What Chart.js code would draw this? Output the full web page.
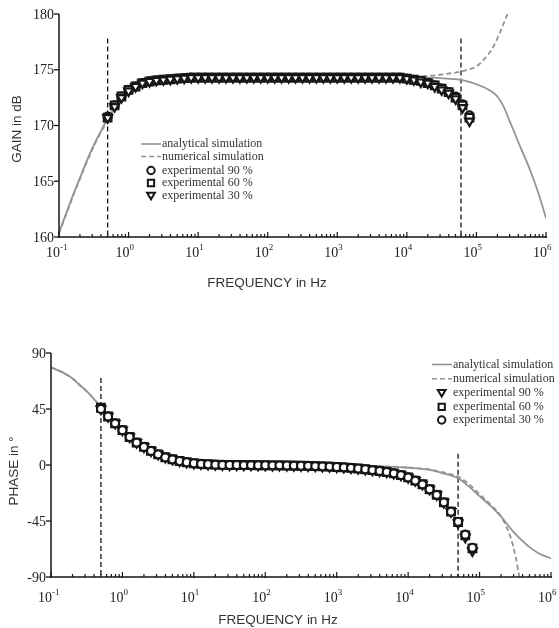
<!DOCTYPE html>
<html>
<head>
<meta charset="utf-8">
<script src="https://cdn.jsdelivr.net/npm/chart.js@4.4.1/dist/chart.umd.min.js"></script>
<style>
  body { margin: 0; background: #fff; }
  canvas { position: absolute; left: 0; }
</style>
</head>
<body>
<canvas id="gainChart" width="559" height="300" style="top:0"></canvas>
<canvas id="phaseChart" width="559" height="328" style="top:300px"></canvas>
<script>
// measured frequencies (Hz), ten per decade
const expFreq = [0.5, 0.63, 0.79, 1, 1.26, 1.58, 2, 2.51, 3.16, 3.98, 5.01, 6.31, 7.94,
  10, 12.6, 15.8, 20, 25.1, 31.6, 39.8, 50.1, 63.1, 79.4,
  100, 126, 158, 200, 251, 316, 398, 501, 631, 794,
  1000, 1259, 1585, 1995, 2512, 3162, 3981, 5012, 6310, 7943,
  10000, 12589, 15849, 19953, 25119, 31623, 39811, 50119, 63096, 79433];

// gain (dB)
const gain90 = [170.8, 171.8, 172.6, 173.2, 173.5, 173.8, 173.95, 174.05, 174.1, 174.15, 174.2, 174.25, 174.3,
  174.3, 174.3, 174.3, 174.3, 174.3, 174.3, 174.3, 174.3, 174.3, 174.3,
  174.3, 174.3, 174.3, 174.3, 174.3, 174.3, 174.3, 174.3, 174.3, 174.3,
  174.3, 174.3, 174.3, 174.3, 174.3, 174.3, 174.3, 174.3, 174.3, 174.3,
  174.2, 174.1, 174.0, 173.8, 173.6, 173.3, 173.0, 172.6, 171.9, 170.9];
const gain60 = [170.7, 171.8, 172.6, 173.2, 173.5, 173.8, 173.95, 174.05, 174.1, 174.15, 174.2, 174.25, 174.3,
  174.3, 174.3, 174.3, 174.3, 174.3, 174.3, 174.3, 174.3, 174.3, 174.3,
  174.3, 174.3, 174.3, 174.3, 174.3, 174.3, 174.3, 174.3, 174.3, 174.3,
  174.3, 174.3, 174.3, 174.3, 174.3, 174.3, 174.3, 174.3, 174.3, 174.3,
  174.2, 174.1, 174.0, 173.8, 173.6, 173.3, 173.0, 172.5, 171.8, 170.7];
const gain30 = [170.7, 171.7, 172.5, 173.1, 173.5, 173.8, 173.95, 174.05, 174.1, 174.15, 174.2, 174.25, 174.3,
  174.3, 174.3, 174.3, 174.3, 174.3, 174.3, 174.3, 174.3, 174.3, 174.3,
  174.3, 174.3, 174.3, 174.3, 174.3, 174.3, 174.3, 174.3, 174.3, 174.3,
  174.3, 174.3, 174.3, 174.3, 174.3, 174.3, 174.3, 174.3, 174.3, 174.3,
  174.2, 174.1, 173.9, 173.8, 173.5, 173.2, 172.9, 172.4, 171.6, 170.4];

const gainCurveFreq = [0.1, 0.13, 0.16, 0.2, 0.25, 0.32, 0.4, 0.5, 0.63, 0.8, 1, 1.26, 1.6, 2, 3, 5,
  10, 100, 1000, 10000, 20000, 30000, 50000, 70000, 100000, 150000, 200000, 250000, 300000, 350000, 400000, 500000, 600000, 800000, 1000000];
const gainAnalytical = [160.4, 162.3, 163.8, 165.3, 166.8, 168.3, 169.5, 170.6, 171.6, 172.5, 173.1, 173.5, 173.8, 174.0, 174.2, 174.3,
  174.3, 174.3, 174.3, 174.3, 174.3, 174.25, 174.15, 174.0, 173.7, 173.2, 172.6, 171.6, 170.4, 169.4, 168.5, 167.1, 165.9, 163.7, 161.7];
const gainNumFreq = [0.1, 0.13, 0.16, 0.2, 0.25, 0.32, 0.4, 0.5, 0.63, 0.8, 1, 1.26, 1.6, 2, 3, 5,
  10, 100, 1000, 10000, 20000, 30000, 50000, 70000, 100000, 140000, 180000, 220000, 280000];
const gainNumerical = [160.3, 162.2, 163.7, 165.2, 166.7, 168.2, 169.4, 170.5, 171.5, 172.4, 173.0, 173.5, 173.8, 174.0, 174.2, 174.3,
  174.3, 174.3, 174.35, 174.4, 174.45, 174.55, 174.75, 174.95, 175.3, 176.2, 177.2, 178.4, 180.0];

// phase (degrees)
const phase90 = [45, 39, 33.5, 28, 22.5, 18, 14.5, 11.3, 8.6, 6.2, 4.6, 3.2, 2.2,
  1.4, 0.9, 0.6, 0.3, 0.1, 0, 0, -0.1, -0.1, -0.2,
  -0.2, -0.3, -0.3, -0.4, -0.5, -0.6, -0.7, -0.9, -1.1, -1.3,
  -1.6, -1.9, -2.3, -2.8, -3.4, -4.1, -4.8, -5.6, -6.7, -8.1,
  -10, -12.5, -15.5, -19.5, -24, -30, -37.5, -46.5, -58, -69];
const phase60 = [46, 39, 33.5, 28, 22.5, 18, 14.5, 11.3, 8.6, 6.2, 4.6, 3.2, 2.2,
  1.4, 0.9, 0.6, 0.3, 0.1, 0, 0, -0.1, -0.1, -0.2,
  -0.2, -0.3, -0.3, -0.4, -0.5, -0.6, -0.7, -0.9, -1.1, -1.3,
  -1.6, -1.9, -2.3, -2.8, -3.4, -4.1, -4.8, -5.6, -6.7, -8.1,
  -10, -12.5, -15.5, -19.5, -24, -30, -37.5, -45.8, -56.5, -67];
const phase30 = [45, 39, 33.5, 28, 22.5, 18, 14.5, 11.3, 8.6, 6.2, 4.6, 3.2, 2.2,
  1.4, 0.9, 0.6, 0.3, 0.1, 0, 0, -0.1, -0.1, -0.2,
  -0.2, -0.3, -0.3, -0.4, -0.5, -0.6, -0.7, -0.9, -1.1, -1.3,
  -1.6, -1.9, -2.3, -2.8, -3.4, -4.1, -4.8, -5.6, -6.7, -8.1,
  -10, -12.5, -15.5, -19.5, -24, -30, -37.5, -45.6, -56, -66.5];

const phaseCurveFreq = [0.1, 0.15, 0.2, 0.25, 0.32, 0.4, 0.5, 0.63, 0.8, 1, 1.26, 1.6, 2, 2.5, 3.2, 4, 5, 6.3, 8, 10, 16, 25, 40,
  100, 1000, 3000, 10000, 20000, 30000, 50000, 70000, 100000, 150000, 200000, 300000, 400000, 500000, 700000, 1000000];
const phaseAnalytical = [78.5, 74, 69.5, 64.5, 59, 53, 46.5, 40, 34, 28, 22.5, 18, 14.5, 11.3, 8.6, 6.2, 4.6, 3.2, 2.3, 1.6, 0.8, 0.4, 0.2,
  0, -0.2, -0.8, -2.2, -4, -6.5, -10.7, -17, -25, -34, -41.5, -54, -61, -66, -71.5, -75];
const phaseNumFreq = [0.1, 0.15, 0.2, 0.25, 0.32, 0.4, 0.5, 0.63, 0.8, 1, 1.26, 1.6, 2, 2.5, 3.2, 4, 5, 6.3, 8, 10, 16, 25, 40,
  100, 1000, 3000, 10000, 20000, 30000, 50000, 70000, 100000, 150000, 200000, 270000, 320000, 360000];
const phaseNumerical = [78.5, 74, 69.5, 64.5, 59, 53, 46.5, 40, 34, 28, 22.5, 18, 14.5, 11.3, 8.6, 6.2, 4.6, 3.2, 2.3, 1.6, 0.8, 0.4, 0.2,
  0, -0.2, -0.7, -2, -3.6, -5.7, -9.3, -15, -23.5, -33, -41.5, -57.6, -73.7, -90];

// vertical dashed markers
const gainMarkFreq = [0.5, 60000];
const gainMarkTop = [177.8, 177.8];
const phaseMarkFreq = [0.5, 50000];
const phaseMarkTop = [70, 9];

// axis ticks
const xTickValues = [0.1, 1, 10, 100, 1000, 10000, 100000, 1000000];
const xTickExps = ["-1", "0", "1", "2", "3", "4", "5", "6"];
const gainTicks = [160, 165, 170, 175, 180];
const phaseTicks = [-90, -45, 0, 45, 90];

const SERIF = '"Liberation Serif", "Times New Roman", serif';
const SANS = '"Liberation Sans", Arial, sans-serif';
const GREY = "#939393";
const INK = "#161616";

const zip = (xs, ys) => xs.map((x, i) => ({ x: x, y: ys[i] }));

function drawMarker(ctx, style, x, y, r) {
  ctx.beginPath();
  if (style === "circle") {
    ctx.arc(x, y, r, 0, Math.PI * 2);
  } else if (style === "rect") {
    ctx.rect(x - r * 0.85, y - r * 0.85, r * 1.7, r * 1.7);
  } else {
    ctx.moveTo(x - r * 1.05, y - r * 0.75);
    ctx.lineTo(x + r * 1.05, y - r * 0.75);
    ctx.lineTo(x, y + r * 1.0);
    ctx.closePath();
  }
  ctx.fillStyle = "#fff";
  ctx.fill();
  ctx.stroke();
}

const framePlugin = {
  id: "frame",
  afterDraw(chart, args, opts) {
    const ctx = chart.ctx;
    const a = chart.chartArea;
    const xs = chart.scales.x, ys = chart.scales.y;
    ctx.save();
    ctx.strokeStyle = INK;
    ctx.lineWidth = 1.5;
    ctx.beginPath();
    ctx.moveTo(a.left, a.top);
    ctx.lineTo(a.left, a.bottom);
    ctx.lineTo(a.right + 1, a.bottom);
    ctx.stroke();

    // y ticks
    ctx.lineWidth = 1.3;
    ctx.fillStyle = "#222";
    ctx.font = "14px " + SERIF;
    ctx.textAlign = "right";
    ctx.textBaseline = "middle";
    opts.yTicks.forEach(v => {
      const py = ys.getPixelForValue(v);
      ctx.beginPath();
      ctx.moveTo(a.left - 5, py);
      ctx.lineTo(a.left, py);
      ctx.stroke();
      ctx.fillText(String(v), a.left - 5, py + 1);
    });

    // x ticks, major and minor
    ctx.lineWidth = 1.2;
    xTickValues.forEach((v, i) => {
      const px = xs.getPixelForValue(v);
      ctx.beginPath();
      ctx.moveTo(px, a.bottom - 5);
      ctx.lineTo(px, a.bottom + 1);
      ctx.stroke();
      if (i < xTickValues.length - 1) {
        for (let m = 2; m <= 9; m++) {
          const mx = xs.getPixelForValue(v * m);
          ctx.beginPath();
          ctx.moveTo(mx, a.bottom - 3);
          ctx.lineTo(mx, a.bottom);
          ctx.stroke();
        }
      }
      ctx.textBaseline = "alphabetic";
      ctx.textAlign = "right";
      ctx.font = "14px " + SERIF;
      ctx.fillText("10", px + 1, a.bottom + opts.xLabelGap);
      ctx.textAlign = "left";
      ctx.font = "9px " + SERIF;
      ctx.fillText(xTickExps[i], px + 1, a.bottom + opts.xLabelGap - 7);
    });

    // axis titles
    ctx.fillStyle = "#333";
    ctx.font = "13.5px " + SANS;
    ctx.textAlign = "center";
    ctx.textBaseline = "middle";
    ctx.fillText(opts.xTitle, opts.xTitlePos[0], opts.xTitlePos[1]);
    ctx.translate(opts.yTitlePos[0], opts.yTitlePos[1]);
    ctx.rotate(-Math.PI / 2);
    ctx.fillText(opts.yTitle, 0, 0);
    ctx.restore();

    // legend
    ctx.save();
    const L = opts.legend;
    ctx.font = "12px " + SERIF;
    ctx.textAlign = "left";
    ctx.textBaseline = "middle";
    chart.data.datasets.filter(d => d.label).forEach((d, i) => {
      const ry = L.rows[i];
      ctx.strokeStyle = d.borderColor;
      if (d.showLine === false) {
        ctx.lineWidth = 2;
        ctx.strokeStyle = INK;
        drawMarker(ctx, d.legendShape, L.markX, ry, 3.7);
      } else {
        ctx.lineWidth = 1.6;
        ctx.setLineDash(d.borderDash || []);
        ctx.beginPath();
        ctx.moveTo(L.lineX[0], ry);
        ctx.lineTo(L.lineX[1], ry);
        ctx.stroke();
        ctx.setLineDash([]);
      }
      ctx.fillStyle = "#333";
      ctx.fillText(d.label, L.textX, ry);
    });
    ctx.restore();
  }
};

function curve(label, data, dash, order) {
  return {
    label: label, data: data, borderColor: GREY, borderWidth: 1.8,
    borderDash: dash, pointRadius: 0, cubicInterpolationMode: "monotone", order: order
  };
}

function expSet(label, data, style, order) {
  const tri = style === "triangle";
  return {
    label: label, data: data, showLine: false, legendShape: style,
    pointStyle: style, rotation: tri ? 180 : 0,
    pointRadius: style === "rect" ? 5.4 : (tri ? 5 : 4),
    pointBorderWidth: 2.2, borderColor: INK, pointBackgroundColor: "#fff", order: order
  };
}

function markLine(f, top, bottom) {
  return {
    data: [{ x: f, y: top }, { x: f, y: bottom }], borderColor: INK, borderWidth: 1.3,
    borderDash: [5, 3], pointRadius: 0, order: 6
  };
}

function makeChart(id, datasets, yMin, yMax, padding, frame) {
  return new Chart(document.getElementById(id), {
    type: "line",
    data: { datasets: datasets },
    options: {
      responsive: false,
      animation: false,
      events: [],
      layout: { padding: padding },
      plugins: { legend: { display: false }, tooltip: { enabled: false }, frame: frame },
      scales: {
        x: { type: "logarithmic", min: 0.1, max: 1000000, display: false },
        y: { type: "linear", min: yMin, max: yMax, display: false }
      }
    },
    plugins: [framePlugin]
  });
}

makeChart("gainChart", [
  curve("analytical simulation", zip(gainCurveFreq, gainAnalytical), [], 4),
  curve("numerical simulation", zip(gainNumFreq, gainNumerical), [5, 3], 3),
  expSet("experimental 90 %", zip(expFreq, gain90), "circle", 2),
  expSet("experimental 60 %", zip(expFreq, gain60), "rect", 1),
  expSet("experimental 30 %", zip(expFreq, gain30), "triangle", 0),
  markLine(gainMarkFreq[0], gainMarkTop[0], 160),
  markLine(gainMarkFreq[1], gainMarkTop[1], 160)
], 160, 180, { left: 59, right: 13, top: 14, bottom: 63 }, {
  yTicks: gainTicks, xLabelGap: 20,
  xTitle: "FREQUENCY in Hz", xTitlePos: [267, 283],
  yTitle: "GAIN in dB", yTitlePos: [17, 129],
  legend: { rows: [144, 156.5, 170.5, 183, 195.5], lineX: [141, 161], markX: 151, textX: 162 }
});

makeChart("phaseChart", [
  curve("analytical simulation", zip(phaseCurveFreq, phaseAnalytical), [], 4),
  curve("numerical simulation", zip(phaseNumFreq, phaseNumerical), [5, 3], 3),
  expSet("experimental 90 %", zip(expFreq, phase90), "triangle", 2),
  expSet("experimental 60 %", zip(expFreq, phase60), "rect", 1),
  expSet("experimental 30 %", zip(expFreq, phase30), "circle", 0),
  markLine(phaseMarkFreq[0], phaseMarkTop[0], -90),
  markLine(phaseMarkFreq[1], phaseMarkTop[1], -90)
], -90, 90, { left: 51, right: 8, top: 53, bottom: 51 }, {
  yTicks: phaseTicks, xLabelGap: 25,
  xTitle: "FREQUENCY in Hz", xTitlePos: [278, 320],
  yTitle: "PHASE in °", yTitlePos: [14, 171],
  legend: { rows: [64.5, 78.8, 92.8, 106.8, 120], lineX: [432, 452], markX: 441.7, textX: 453 }
});
</script>
</body>
</html>
